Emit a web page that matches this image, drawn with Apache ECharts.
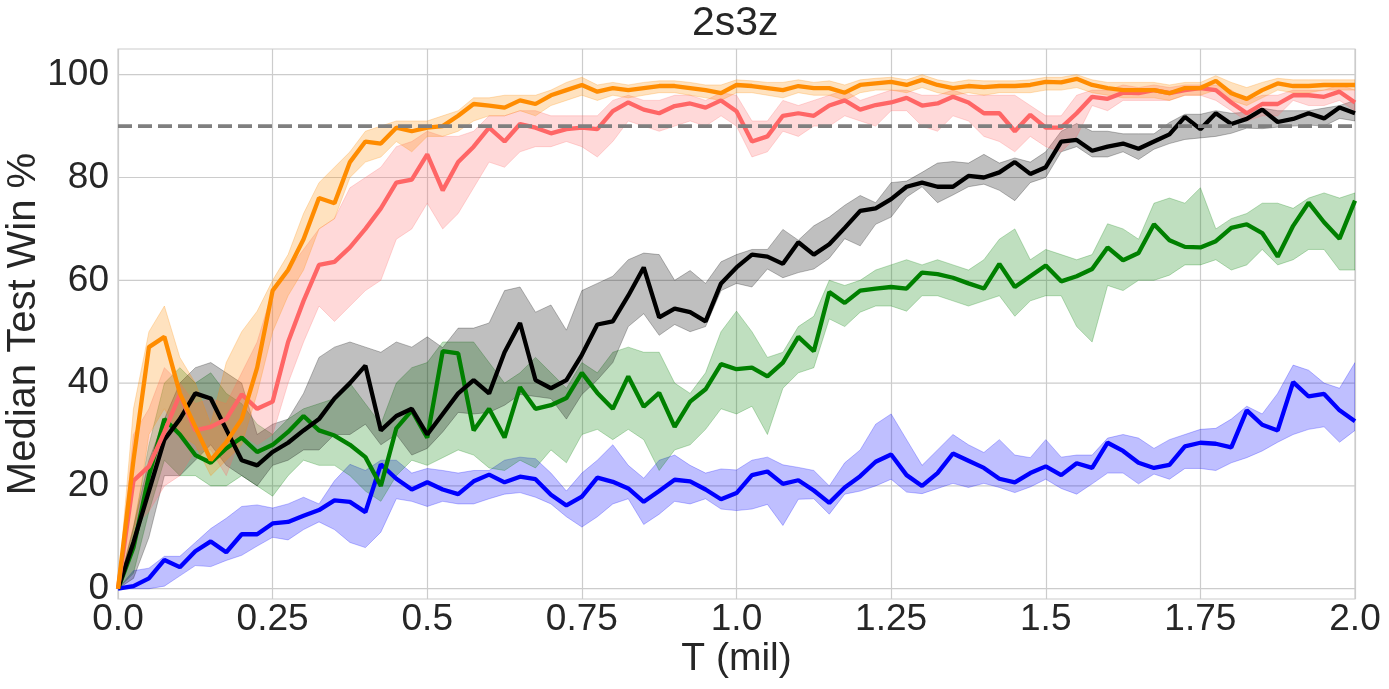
<!DOCTYPE html>
<html>
<head>
<meta charset="utf-8">
<title>2s3z</title>
<script src="https://cdn.jsdelivr.net/npm/echarts@6/dist/echarts.min.js"></script>
<style>
  html, body { margin: 0; padding: 0; background: #fff; }
  #chart { width: 1389px; height: 689px; }
</style>
</head>
<body>
<div id="chart"></div>
<script>
// sample positions, T in millions of steps (every 0.025)
const T = Array.from({ length: 81 }, (_, i) => +(i * 0.025).toFixed(3));

const X_TICK_LABELS = ["0.0", "0.25", "0.5", "0.75", "1.0", "1.25", "1.5", "1.75", "2.0"];
const Y_TICKS = [0, 20, 40, 60, 80, 100];
const TARGET = 90;

// one row = 0.25 mil
const orangeMed = [
  0, 25, 47, 49, 38, 31.5, 25, 28.5, 33, 43,
  58, 62, 68, 76, 75, 83, 87, 86.6, 89.7, 89,
  89.7, 90, 92, 94.3, 94, 93.6, 95, 94.3, 96, 97,
  98, 96.7, 97.4, 97, 97.4, 97.8, 97.8, 97.4, 97, 96.4,
  98, 97.8, 97.4, 97, 97.8, 97.4, 97.4, 96.5, 98, 98.3,
  98.6, 98, 99, 98, 97.4, 97.8, 97.6, 97.8, 97.8, 98,
  98.6, 98.5, 99.2, 98, 97.4, 97, 97, 97, 96.4, 97.4,
  97.4, 98.8, 96.4, 95.3, 97, 98.3, 97.8, 97.8, 98, 98,
  98
];
const orangeLow = [
  0, 10, 30, 35, 30, 28, 22, 25, 28, 38,
  50, 57, 62, 70, 72, 80, 83, 84, 87, 85,
  88, 88, 89, 91, 92, 92, 93, 92, 94, 95,
  96, 95, 96, 95.5, 96, 96.5, 96.5, 96, 95.5, 95,
  96.5, 96.5, 96, 95.5, 96.5, 96, 96, 95, 96.5, 97,
  97, 96.5, 97.5, 96.5, 96, 96.5, 96, 96.5, 96.5, 96.5,
  97, 97, 97.5, 96.5, 96, 95.5, 95.5, 95.5, 95, 96,
  96, 97, 95, 94, 95.5, 97, 96.5, 96.5, 97, 97,
  97
];
const orangeHigh = [
  0, 35, 50, 55, 45, 40, 32, 44, 50, 54,
  60, 65, 73, 79, 82, 85, 89, 90, 91, 91,
  91, 92, 93, 95.5, 95.5, 96, 96, 96, 97, 98.5,
  99.5, 98, 98.5, 98, 98.5, 98.8, 98.8, 98.5, 98, 98,
  99, 98.8, 98.5, 98.5, 99, 98.5, 98.8, 98, 99, 99.3,
  99.5, 99, 100, 99, 98.5, 99, 98.8, 98.8, 98.8, 99,
  99.5, 99.5, 100, 99, 98.5, 98.5, 98.5, 98.5, 98, 98.5,
  98.5, 99.8, 98.5, 97.5, 98.5, 99.3, 99, 99, 99, 99,
  99
];

const redMed = [
  0, 21, 23.8, 30.5, 37.8, 30.8, 31.5, 33, 37.8, 35,
  36.4, 48, 56, 63, 63.6, 66.4, 70, 74, 79, 79.6,
  84.5, 77.5, 83, 86, 89.7, 87, 90.4, 89.7, 88.6, 89.4,
  89.7, 89.4, 92.9, 94.6, 93.2, 92.5, 93.9, 94.4, 93.6, 95,
  92.9, 87, 88, 92, 92.5, 92, 94, 95, 93.2, 94.1,
  94.6, 95.5, 94, 94.4, 95.7, 94.6, 92.5, 92.5, 89, 92.2,
  89.7, 89.7, 92.5, 95.7, 95.3, 96.5, 96.4, 97, 96.4, 97,
  97.4, 97, 94.6, 92.5, 94.3, 94.3, 96, 96, 95.7, 96.7,
  94.6
];
const redLow = [
  0, 12, 15, 20, 22, 27, 27, 22, 30, 28,
  30, 40, 48, 55, 52, 55, 58, 60, 68, 70,
  75, 70, 73, 78, 83, 82, 85, 86, 86, 87,
  86, 84, 87, 91, 90, 89, 90, 91, 90, 92,
  90, 84, 85, 89, 88, 90, 90, 92, 91, 90,
  93, 93, 90, 89, 92, 91, 88, 87, 85, 88,
  86, 85, 88, 94, 93, 95, 95, 95, 95, 96,
  96, 95, 93, 91, 92, 92, 95, 94, 94, 95,
  93
];
const redHigh = [
  0, 30, 35, 43, 40, 36, 37, 36, 42, 48,
  58, 62, 66, 70, 72, 78, 80, 82, 86, 87,
  89, 88, 88, 89, 92, 92, 93, 93, 92, 92,
  92, 92, 95, 96, 95, 95, 96, 96, 95, 96.5,
  96, 91, 91, 95, 94, 95, 96, 97, 95, 96,
  97, 97, 96, 96, 97, 96, 96, 96, 96, 94,
  92, 92, 96, 97, 97, 98, 97.5, 98, 97.5, 98,
  98, 98, 97, 95, 96, 96, 97, 97, 97, 98,
  97
];

const blackMed = [
  0, 9, 19, 29, 33, 38, 37, 31, 25, 24,
  26.6, 28.4, 30.8, 33, 37, 40, 43.4, 30.8, 33.6, 35,
  30, 34, 38, 40.6, 38, 46, 51.7, 40.6, 39, 40.6,
  45.5, 51.4, 52, 57, 62.5, 52.8, 54.5, 53.8, 52, 59.4,
  62.5, 65, 64.6, 63.2, 67.4, 65, 67, 70.2, 73.5, 74,
  75.8, 78.2, 79, 78.2, 78.2, 80.3, 80, 81, 83, 80.7,
  82, 87, 87.3, 85.2, 86, 86.6, 85.6, 87, 88.4, 91.8,
  89.4, 92.5, 90.4, 91.4, 93.2, 90.8, 91.4, 92.5, 91.5, 93.6,
  92.5
];
const blackLow = [
  0, 2, 10, 22, 22, 25, 28, 24, 22, 20,
  24, 25, 27, 27, 30, 30, 32, 28, 30, 26,
  27.3, 30.5, 34.3, 34, 34.3, 35.7, 37.8, 37.4, 37, 33,
  37.8, 40.6, 44, 51, 53.5, 49.3, 51.4, 50, 51, 58,
  59.4, 58.7, 62.2, 60.5, 61.5, 62.2, 64.3, 68.1, 66.7, 70.9,
  72.3, 76.2, 78.2, 75.1, 76.6, 78.2, 78.7, 77.5, 75.5, 79,
  80, 85, 86, 84, 84, 85, 83.5, 85.5, 86.6, 87.4,
  87.7, 88, 88.6, 89.6, 89.5, 89.8, 90, 90.2, 90, 91.5,
  91
];
const blackHigh = [
  0, 12, 25, 33, 40, 43, 44, 42, 40, 30,
  32, 33, 38, 45, 47, 48, 47, 46, 48, 47,
  49, 46.9, 50.7, 50.7, 51.7, 58, 58.7, 53.8, 55.2, 50.3,
  58, 59.4, 60.8, 64, 65.3, 65, 60, 61.9, 59.4, 63.6,
  65, 66, 66, 69.9, 67.8, 70.6, 72.3, 74.6, 76.5, 75.1,
  79, 79.3, 81, 82.8, 83.1, 82.8, 84.5, 82.8, 83.8, 83,
  85, 89, 90.5, 89, 89, 88.5, 88.5, 88.5, 90.7, 92.3,
  92.3, 93, 92.5, 92.7, 93.5, 93, 93, 93, 93.5, 94,
  95
];

const greenMed = [
  0, 8, 22, 33, 30, 26, 24.5, 27.3, 29.4, 26.6,
  28, 30.5, 33.6, 30.8, 29.8, 28, 25.6, 20, 31.2, 34.7,
  29.4, 46.2, 45.8, 30.8, 35, 29.4, 39.2, 35, 35.7, 37.1,
  42, 38.1, 35, 41.3, 35.4, 38.1, 31.5, 36.4, 38.8, 43.7,
  42.7, 43, 41.3, 44, 49, 46.2, 57.7, 55.6, 58, 58.4,
  58.7, 58.4, 61.5, 61.2, 60.5, 59.4, 58.4, 63.2, 58.7, 60.8,
  62.9, 59.8, 60.8, 62.2, 66.4, 63.9, 65.3, 70.9, 67.8, 66.5,
  66.4, 67.6, 70.2, 70.9, 69.2, 64.6, 70.6, 75.1, 71.3, 68.1,
  75.5
];
const greenLow = [
  0, 3, 15, 25, 22, 22, 20, 20, 22, 20,
  18, 22, 25, 24, 24, 22, 19, 17, 22, 25,
  24, 25.5, 27, 26, 23.5, 23, 25, 23.5, 27, 24.5,
  30, 31, 29, 31, 29, 23, 27, 28, 31, 35,
  34, 35.5, 30, 39, 42, 43, 52.5, 51, 53.8, 55,
  55, 54, 57, 57, 56, 55, 56, 57, 53, 56,
  57, 57, 51, 48, 59, 58, 60, 60, 61, 63,
  63, 64, 62, 63, 66, 63, 64, 66, 66, 62,
  62
];
const greenHigh = [
  0, 12, 28, 40, 43, 40, 42, 38, 36, 32,
  30, 33, 35, 36, 37, 40, 36, 32, 40, 43,
  44, 48, 48, 48, 44, 40, 42, 45, 42, 39,
  44, 42, 46, 47, 46, 46, 40, 38, 42, 50,
  54, 50, 45, 46, 51, 53, 60, 59, 60, 62,
  63, 64, 63, 64, 63, 62, 64, 68, 70, 64,
  66, 65, 64, 65, 71, 70, 68, 75, 76, 75,
  78, 70, 72, 73, 75, 75, 74, 76, 77, 76,
  77
];

const blueMed = [
  0, 0.5, 2, 5.6, 4.2, 7.3, 9.2, 7.1, 10.6, 10.6,
  12.7, 13, 14.2, 15.3, 17.2, 16.9, 14.9, 24.2, 21.4, 19.3,
  20.7, 19.3, 18.4, 20.9, 22.2, 20.7, 21.8, 21.3, 18.3, 16.2,
  17.9, 21.6, 20.8, 19.5, 16.9, 19, 21.2, 20.9, 19.3, 17.4,
  18.6, 22.1, 22.8, 20.4, 21.1, 19.1, 16.7, 19.7, 21.9, 24.7,
  26.1, 22.1, 20, 22.5, 26.3, 24.9, 23.5, 21.4, 20.7, 22.5,
  23.8, 22.1, 24.4, 23.5, 28.4, 26.8, 24.5, 23.5, 24.1, 27.7,
  28.4, 28.2, 27.5, 34.7, 31.9, 30.8, 40.2, 37.4, 37.9, 34.7,
  32.6
];
const blueLow = [
  0, 0, 0, 0.5, 2.5, 4.5, 4.3, 5.5, 6.5, 8.3,
  10, 9.5, 11.5, 13, 11.5, 9, 8, 11, 17.5, 17,
  16, 17, 16.5, 16.5, 17.5, 18.4, 18.7, 17.8, 16.5, 14,
  12, 14, 16.5, 17.5, 12.5, 14.5, 17, 16.5, 17.5, 15.5,
  15.2, 15.5, 16.4, 12.3, 17.4, 17.5, 14.5, 18.4, 19, 20,
  21.3, 18.8, 18.5, 19.5, 20.5, 19.7, 20.5, 19.7, 18.7, 19.8,
  21.3, 19.5, 18.4, 20.4, 22.5, 22.5, 20.4, 22.3, 21.3, 23.4,
  23.4, 23, 24.5, 25.5, 26.8, 28.5, 30, 31, 31.5, 28.5,
  30.8
];
const blueHigh = [
  0, 3.5, 4, 6.3, 6.3, 9, 11.7, 13.7, 16, 16.3,
  15.7, 16.5, 17.8, 16.5, 21, 24.2, 23, 25, 25, 22.5,
  23.4, 23, 22.5, 23, 23, 25, 25.6, 25.3, 22.5, 19,
  22.5, 25, 28, 24, 21.5, 25, 26, 24, 22.5, 23.3,
  23.1, 25, 25.6, 24.1, 23.6, 23, 20, 24.5, 27, 32,
  34, 29, 24, 27, 30, 28, 26.5, 29, 26, 25.5,
  29, 25.6, 26, 26, 29.3, 30, 29.3, 27.3, 29, 30,
  31, 31.2, 33, 35.5, 34, 38, 43.5, 42.5, 40, 39,
  44
];

const FONT = "Liberation Sans";
const TEXT = "#262626";
const GRID_COLOR = "#cccccc";

function pairs(vals) {
  return T.map((t, i) => [t, vals[i]]);
}

// shaded band between two lines, drawn through the axes
function band(low, high, color, z) {
  return {
    type: "custom",
    data: [[0, 0]],
    silent: true,
    clip: true,
    z: z,
    renderItem: function (params, api) {
      const pts = [];
      for (let i = 0; i < T.length; i++) pts.push(api.coord([T[i], high[i]]));
      for (let i = T.length - 1; i >= 0; i--) pts.push(api.coord([T[i], low[i]]));
      return {
        type: "polygon",
        shape: { points: pts },
        style: { fill: color, stroke: color, lineWidth: 1, opacity: 0.25 }
      };
    }
  };
}

function line(vals, color, z) {
  return {
    type: "line",
    data: pairs(vals),
    showSymbol: false,
    symbol: "none",
    silent: true,
    z: z,
    itemStyle: { color: color },
    lineStyle: { color: color, width: 4.3 }
  };
}

// horizontal lines at given y values (grid lines, target line)
function hLines(values, style, z) {
  return {
    type: "custom",
    data: [[0, 0]],
    silent: true,
    clip: true,
    z: z,
    renderItem: function (params, api) {
      return {
        type: "group",
        children: values.map(function (v) {
          const a = api.coord([0, v]);
          const b = api.coord([2, v]);
          return {
            type: "line",
            shape: { x1: a[0], y1: a[1], x2: b[0], y2: b[1] },
            style: style
          };
        })
      };
    }
  };
}

let myChart = echarts.init(document.getElementById("chart"));

let option = {
  animation: false,
  backgroundColor: "#ffffff",
  title: {
    text: "2s3z",
    left: 692,
    top: 3,
    padding: 0,
    textStyle: { fontFamily: FONT, fontSize: 41, fontWeight: "normal", color: TEXT }
  },
  grid: {
    left: 118,
    right: 34,
    top: 49,
    bottom: 90,
    show: true,
    borderColor: GRID_COLOR,
    borderWidth: 1.2,
    containLabel: false,
    outerBoundsMode: "none"
  },
  xAxis: {
    type: "value",
    min: 0,
    max: 2,
    interval: 0.25,
    name: "T (mil)",
    nameLocation: "middle",
    nameGap: 41,
    nameMoveOverlap: false,
    nameTextStyle: { fontFamily: FONT, fontSize: 39, color: TEXT },
    axisLine: { show: false },
    axisTick: { show: false },
    axisLabel: {
      fontFamily: FONT,
      fontSize: 37,
      color: TEXT,
      margin: 2,
      formatter: function (v) {
        return X_TICK_LABELS[Math.round(v / 0.25)];
      }
    },
    splitLine: { show: true, lineStyle: { color: GRID_COLOR, width: 1.2 } }
  },
  yAxis: {
    type: "value",
    min: -2,
    max: 105,
    name: "Median Test Win %",
    nameLocation: "middle",
    nameGap: 74,
    nameMoveOverlap: false,
    nameTextStyle: { fontFamily: FONT, fontSize: 40, color: TEXT },
    axisLine: { show: false },
    axisTick: { show: false },
    axisLabel: {
      customValues: Y_TICKS,
      fontFamily: FONT,
      fontSize: 37,
      color: TEXT,
      margin: 9
    },
    splitLine: { show: false }
  },
  series: [
    hLines(Y_TICKS, { stroke: GRID_COLOR, lineWidth: 1.2 }, 0),
    band(blueLow, blueHigh, "#0000ff", 1),
    band(greenLow, greenHigh, "#008000", 1),
    band(blackLow, blackHigh, "#000000", 1),
    band(redLow, redHigh, "#ff6666", 1),
    band(orangeLow, orangeHigh, "#ff8c00", 1),
    line(blueMed, "#0000ff", 3),
    line(greenMed, "#008000", 3),
    line(blackMed, "#000000", 3),
    line(redMed, "#ff6666", 3),
    line(orangeMed, "#ff8c00", 3),
    hLines([TARGET], { stroke: "#7f7f7f", lineWidth: 3.8, lineDash: [14, 6] }, 4)
  ]
};

myChart.setOption(option);
window.addEventListener("resize", function () {
  myChart.resize();
});
</script>
</body>
</html>
